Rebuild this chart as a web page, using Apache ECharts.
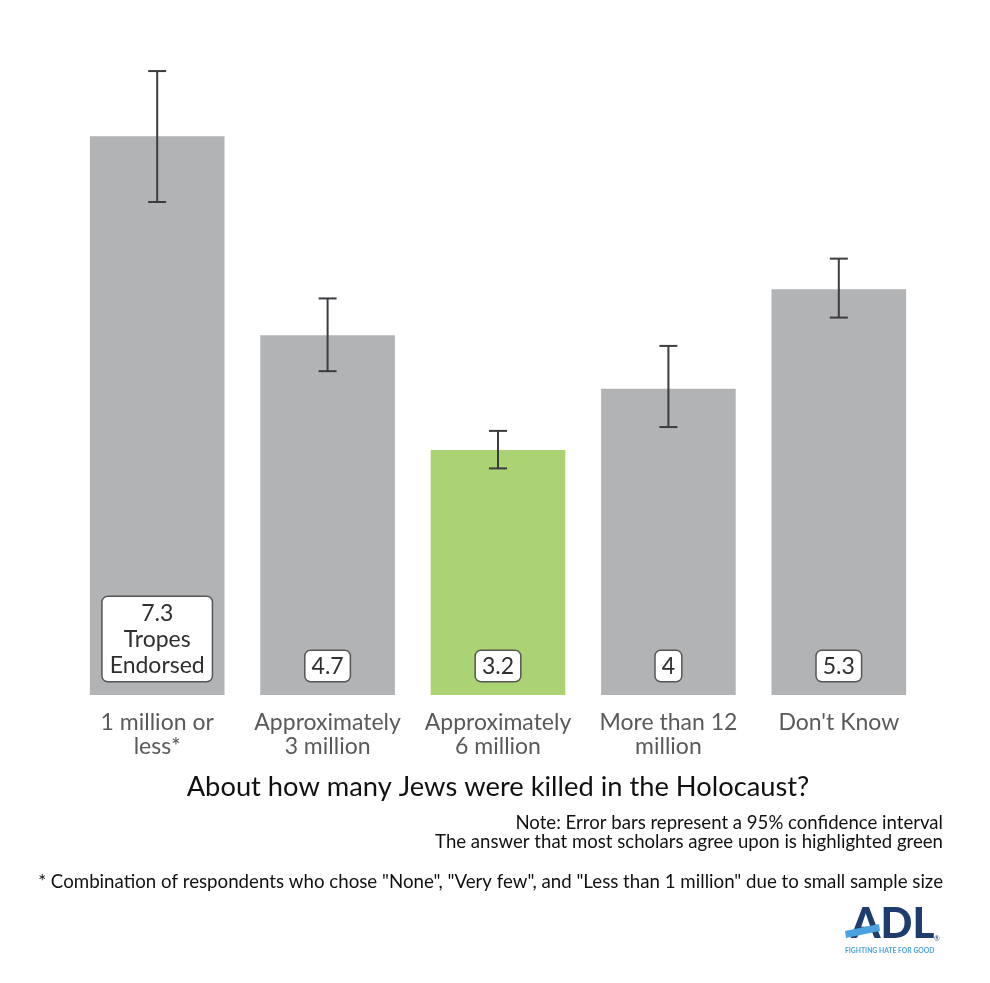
<!DOCTYPE html>
<html>
<head>
<meta charset="utf-8">
<script src="https://cdn.jsdelivr.net/npm/echarts@6/dist/echarts.min.js"></script>
<style>
  html, body { margin: 0; padding: 0; background: #fff; }
  #chart { width: 990px; height: 983px; }
</style>
</head>
<body>
<div id="chart"></div>
<script>
var categories = ['1 million or\nless*', 'Approximately\n3 million', 'Approximately\n6 million', 'More than 12\nmillion', "Don't Know"];
var values = [7.3, 4.7, 3.2, 4, 5.3];
var lowErr = [6.44, 4.23, 2.96, 3.50, 4.93];
var highErr = [8.15, 5.18, 3.45, 4.56, 5.70];
var highlightIdx = 2;

var chart = echarts.init(document.getElementById('chart'));

var barData = values.map(function (v, i) {
  var item = {
    value: v,
    itemStyle: { color: i === highlightIdx ? '#acd373' : '#b2b3b5' }
  };
  if (i === 0) {
    item.label = { formatter: v + '\nTropes\nEndorsed', padding: [4, 7, 2, 7] };
  }
  return item;
});

var errData = values.map(function (v, i) {
  return [i, lowErr[i], highErr[i]];
});

chart.setOption({
  animation: false,
  textStyle: { fontFamily: 'Lato' },
  grid: { left: 72, right: 66, top: 6, bottom: 288 },
  xAxis: {
    type: 'category',
    data: categories,
    name: 'About how many Jews were killed in the Holocaust?',
    nameLocation: 'middle',
    nameGap: 79,
    nameTextStyle: { fontSize: 27.3, color: '#111', fontFamily: 'Lato' },
    axisLine: { show: false },
    axisTick: { show: false },
    axisLabel: {
      fontSize: 23, color: '#5a5a5a', lineHeight: 24, margin: 16,
      interval: 0, fontFamily: 'Lato'
    }
  },
  yAxis: {
    type: 'value', min: 0, max: 9, show: false,
    splitLine: { show: false }
  },
  series: [
    {
      type: 'bar',
      data: barData,
      barCategoryGap: '21%',
      label: {
        show: true,
        position: 'insideBottom',
        distance: 14,
        fontSize: 23,
        lineHeight: 26,
        color: '#2f2f2f',
        fontFamily: 'Lato',
        backgroundColor: '#fff',
        borderColor: '#555',
        borderWidth: 1.5,
        borderRadius: 5,
        padding: [3, 6, 1, 6]
      }
    },
    {
      type: 'custom',
      data: errData,
      z: 10,
      renderItem: function (params, api) {
        var x = api.value(0);
        var lo = api.coord([x, api.value(1)]);
        var hi = api.coord([x, api.value(2)]);
        var half = 9;
        var style = { stroke: '#3c3c40', lineWidth: 2 };
        return {
          type: 'group',
          children: [
            { type: 'line', shape: { x1: hi[0], y1: hi[1], x2: lo[0], y2: lo[1] }, style: style },
            { type: 'line', shape: { x1: hi[0] - half, y1: hi[1], x2: hi[0] + half, y2: hi[1] }, style: style },
            { type: 'line', shape: { x1: lo[0] - half, y1: lo[1], x2: lo[0] + half, y2: lo[1] }, style: style }
          ]
        };
      }
    }
  ],
  graphic: [
    {
      type: 'text', x: 943, y: 823,
      style: {
        text: 'Note: Error bars represent a 95% confidence interval',
        fontSize: 18.6, fill: '#111', align: 'right', verticalAlign: 'middle', fontFamily: 'Lato'
      }
    },
    {
      type: 'text', x: 943, y: 842,
      style: {
        text: 'The answer that most scholars agree upon is highlighted green',
        fontSize: 18.6, fill: '#111', align: 'right', verticalAlign: 'middle', fontFamily: 'Lato'
      }
    },
    {
      type: 'text', x: 943, y: 882,
      style: {
        text: '* Combination of respondents who chose "None", "Very few", and "Less than 1 million" due to small sample size',
        fontSize: 18.7, fill: '#111', align: 'right', verticalAlign: 'middle', fontFamily: 'Lato'
      }
    },
    {
      type: 'text', x: 851, y: 924,
      style: { text: 'ADL', fontSize: 42, fontWeight: 900, fill: '#1d3d6f', verticalAlign: 'middle', fontFamily: 'Lato' }
    },
    {
      type: 'polygon', z: 20,
      shape: { points: [[845, 931], [879, 924], [880, 931], [846, 938]] },
      style: { fill: '#4aa3df' }
    },
    {
      type: 'text', x: 934, y: 939,
      style: { text: '®', fontSize: 7, fill: '#1d3d6f', verticalAlign: 'middle', fontFamily: 'Lato' }
    },
    {
      type: 'text', x: 845, y: 951,
      style: { text: 'FIGHTING HATE FOR GOOD', fontSize: 6.8, fontWeight: 'bold', fill: '#4aa3df', verticalAlign: 'middle', fontFamily: 'Lato' }
    }
  ]
});
</script>
</body>
</html>
